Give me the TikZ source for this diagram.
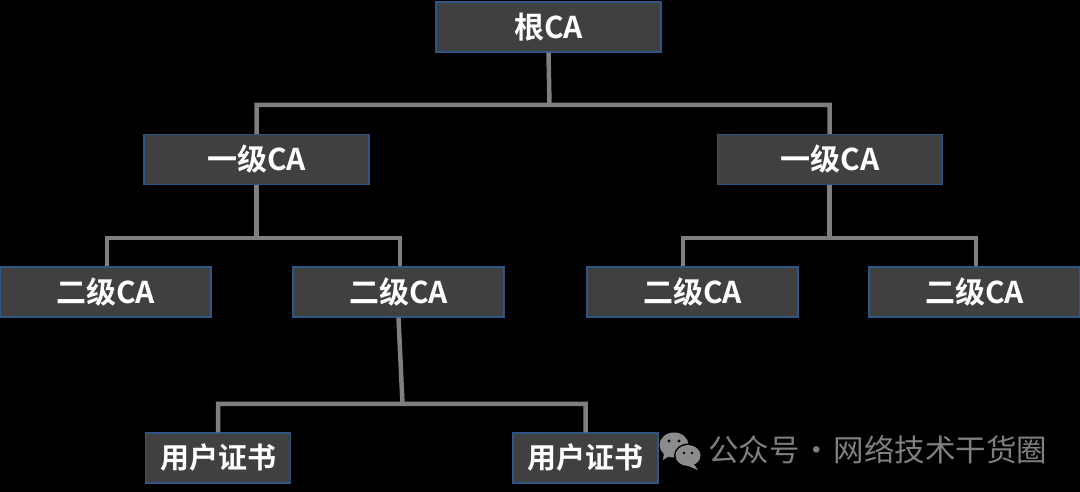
\documentclass[tikz,border=0pt]{standalone}
\usepackage{fontspec}
\setmainfont{Noto Sans CJK SC}
\newfontfamily\boxfont[BoldFont={Noto Sans CJK SC Bold}]{Noto Sans CJK SC}
\definecolor{boxfill}{HTML}{404040}
\definecolor{boxline}{HTML}{2F5587}
\definecolor{linkgray}{HTML}{7F7F7F}
\definecolor{markgray}{HTML}{8C8C8C}
\begin{document}
\begin{tikzpicture}[x=1pt, y=1pt, node distance=132.5pt]

% Define the node styles
\tikzstyle{castate}=[rectangle, draw=boxline, line width=1.3pt, fill=boxfill, text=white, minimum height=50pt, inner sep=0pt, align=center, font=\boxfont\fontsize{30}{32}\selectfont\bfseries]
\tikzstyle{rootca}=[castate, minimum width=225pt]
\tikzstyle{firstca}=[castate, minimum width=225pt]
\tikzstyle{secondca}=[castate, minimum width=211pt]
\tikzstyle{usercert}=[castate, minimum width=145pt, font=\boxfont\fontsize{29}{31}\selectfont\bfseries]
\tikzstyle{link}=[draw=linkgray, line width=4.5pt]

\fill[black] (0,0) rectangle (1080,492);
\useasboundingbox (0,0) rectangle (1080,492);

% Define the nodes
\node[rootca] at (548.5,465) (root) {根CA};
\node[firstca, below of=root, xshift=-292pt] (first1) {一级CA};
\node[firstca, below of=root, xshift=281.5pt] (first2) {一级CA};
\node[secondca, below of=first1, xshift=-151pt] (second1) {二级CA};
\node[secondca, below of=first1, xshift=142pt] (second2) {二级CA};
\node[secondca, below of=first2, xshift=-137.5pt] (second3) {二级CA};
\node[secondca, below of=first2, xshift=144.5pt] (second4) {二级CA};
\node[usercert, below of=second2, yshift=-33.5pt, xshift=-180.5pt] (user1) {用户证书};
\node[usercert, below of=second2, yshift=-33.5pt, xshift=187pt] (user2) {用户证书};

% Bus points of the tree
\coordinate (bus0) at (549.5,387);
\coordinate (bus1) at (256.5,254);
\coordinate (bus2) at (829.5,254);
\coordinate (bus3) at (402.5,88);

% Add the edges
\path[link] (root.south) -- (bus0)
          (first1.north) |- (bus0)
          (first2.north) ++(-0.5,0) |- (bus0);
\path[link] (first1.south) -- (bus1)
          (first2.south) ++(-0.5,0) -- (bus2)
          (second1.north) ++(1.5,0) |- (bus1)
          (second2.north) ++(1.5,0) |- (bus1)
          (second3.north) ++(-9.5,0) |- (bus2)
          (second4.north) ++(1.5,0) |- (bus2);
\path[link] (second2.south) -- (bus3)
          (user1.north) |- (bus3)
          (user2.north) |- (bus3);

% Watermark
\fill[markgray] (674,47) ellipse (14.5 and 12.5);
\fill[markgray] (664,40) -- (663,32) -- (671,37) -- cycle;
\fill[black] (688,36.5) ellipse (14 and 12);
\fill[markgray] (688,36.5) ellipse (12.5 and 10.5);
\fill[markgray] (693,29) -- (698,22) -- (688,26) -- cycle;
\fill[black] (669,51) circle (1.6) (679,51) circle (1.6) (684,39) circle (1.4) (692,39) circle (1.4);
\node[anchor=west, inner sep=0pt, text=linkgray, font=\fontsize{30.5}{32}\selectfont] at (708,42) (mark) {公众号\hspace{-5pt} · \hspace{-5pt}网络技术干货圈};

\end{tikzpicture}
\end{document}
